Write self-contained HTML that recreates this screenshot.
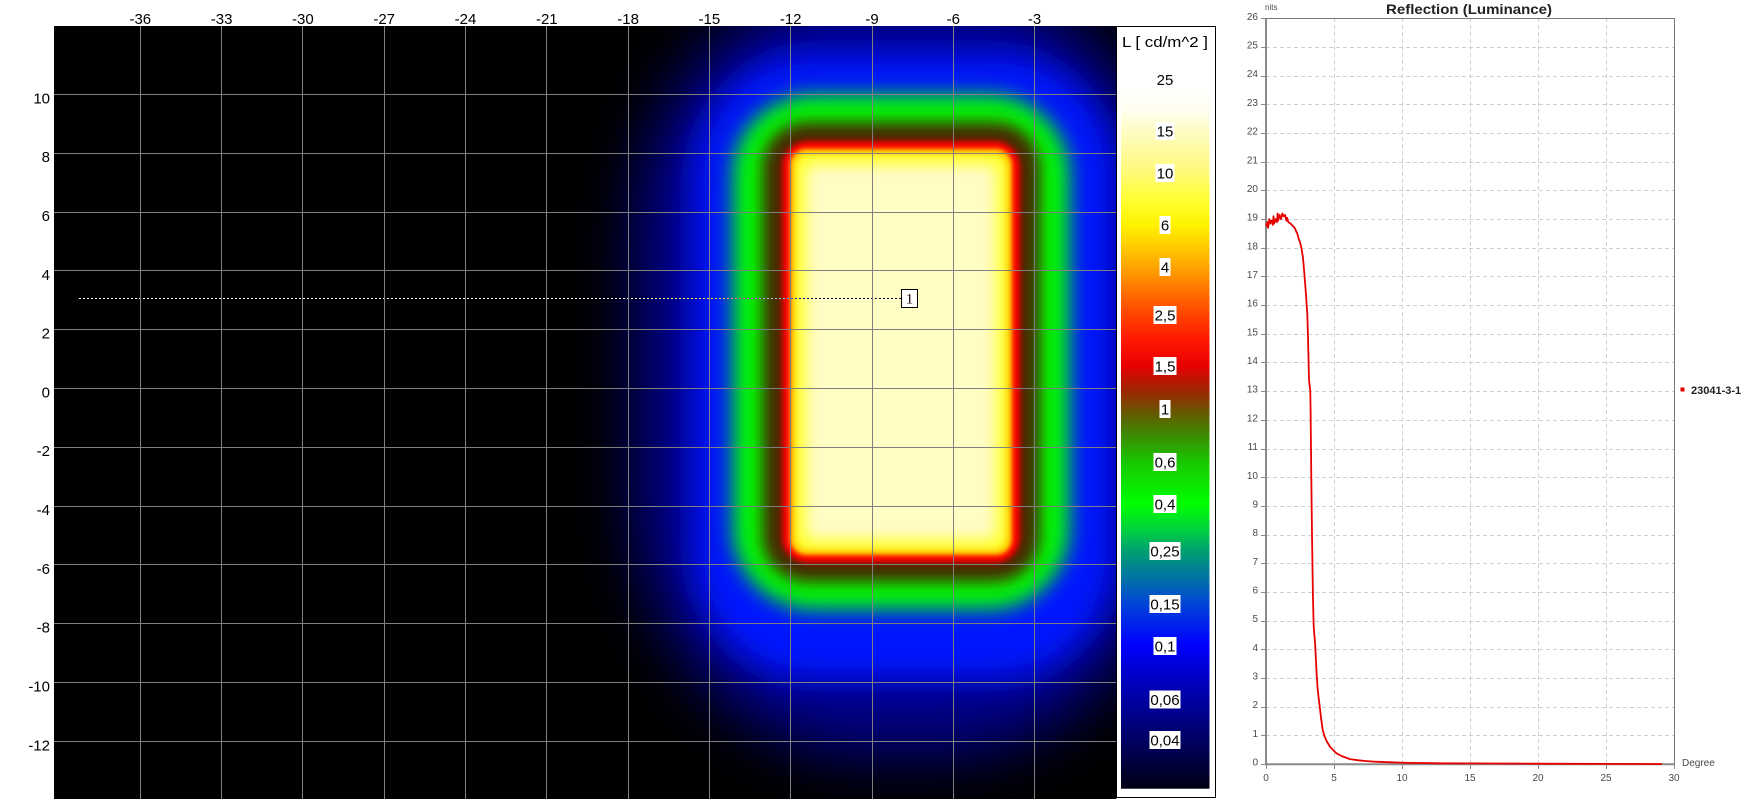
<!DOCTYPE html>
<html>
<head>
<meta charset="utf-8">
<style>
html,body{margin:0;padding:0;background:#fff;}
body{width:1753px;height:799px;overflow:hidden;}
svg{display:block;}
.ax{font-family:"Liberation Sans",sans-serif;font-size:15px;fill:#000;}
.cb{font-family:"Liberation Sans",sans-serif;font-size:15px;fill:#000;text-anchor:middle;}
.ch{font-family:"Liberation Sans",sans-serif;font-size:10px;fill:#4a4a4a;}
</style>
</head>
<body>
<svg width="1753" height="799" viewBox="0 0 1753 799" xmlns="http://www.w3.org/2000/svg">
<defs>
  <clipPath id="hm"><rect x="54" y="26" width="1062.5" height="773"/></clipPath>
  <filter id="b30" x="-50%" y="-50%" width="200%" height="200%"><feGaussianBlur stdDeviation="30"/></filter>
  <filter id="b16" x="-50%" y="-50%" width="200%" height="200%"><feGaussianBlur stdDeviation="17"/></filter>
  <filter id="b9" x="-50%" y="-50%" width="200%" height="200%"><feGaussianBlur stdDeviation="10"/></filter>
  <filter id="b6" x="-50%" y="-50%" width="200%" height="200%"><feGaussianBlur stdDeviation="8"/></filter>
  <filter id="b3" x="-50%" y="-50%" width="200%" height="200%"><feGaussianBlur stdDeviation="3"/></filter>
  <filter id="b2" x="-50%" y="-50%" width="200%" height="200%"><feGaussianBlur stdDeviation="2.5"/></filter>
  <filter id="b7" x="-50%" y="-50%" width="200%" height="200%"><feGaussianBlur stdDeviation="7"/></filter>
  <linearGradient id="cg" x1="0" y1="80" x2="0" y2="789" gradientUnits="userSpaceOnUse">
    <stop offset="0.004" stop-color="#ffffff"/>
    <stop offset="0.042" stop-color="#fffef0"/>
    <stop offset="0.072" stop-color="#fffcc4"/>
    <stop offset="0.131" stop-color="#fffa78"/>
    <stop offset="0.169" stop-color="#ffff30"/>
    <stop offset="0.205" stop-color="#fff200"/>
    <stop offset="0.240" stop-color="#ffc400"/>
    <stop offset="0.264" stop-color="#ffa400"/>
    <stop offset="0.296" stop-color="#ff7400"/>
    <stop offset="0.331" stop-color="#ff4400"/>
    <stop offset="0.367" stop-color="#ff1800"/>
    <stop offset="0.403" stop-color="#e80000"/>
    <stop offset="0.437" stop-color="#a02400"/>
    <stop offset="0.464" stop-color="#6e5000"/>
    <stop offset="0.501" stop-color="#3c8a00"/>
    <stop offset="0.539" stop-color="#18c800"/>
    <stop offset="0.598" stop-color="#00ff00"/>
    <stop offset="0.635" stop-color="#00d040"/>
    <stop offset="0.664" stop-color="#00a070"/>
    <stop offset="0.705" stop-color="#0070a8"/>
    <stop offset="0.739" stop-color="#0044d8"/>
    <stop offset="0.797" stop-color="#0000ff"/>
    <stop offset="0.832" stop-color="#0000d0"/>
    <stop offset="0.873" stop-color="#0000a4"/>
    <stop offset="0.931" stop-color="#000064"/>
    <stop offset="1" stop-color="#000012"/>
  </linearGradient>
</defs>

<!-- ===== Heatmap ===== -->
<g clip-path="url(#hm)">
  <rect x="54" y="26" width="1063" height="773" fill="#000"/>
  <rect x="635" y="-20" width="540" height="775" rx="230" ry="260" fill="#000088" filter="url(#b30)"/>
  <rect x="692" y="52" width="425" height="628" rx="120" ry="130" fill="#0014ff" filter="url(#b16)"/>
  <rect x="733" y="95" width="336" height="514" rx="80" ry="80" fill="#00ff00" filter="url(#b9)"/>
  <rect x="762" y="122" width="278" height="460" rx="45" ry="45" fill="#4a2800" filter="url(#b6)"/>
  <rect x="782" y="141" width="238" height="422" rx="26" ry="26" fill="#ff0000" filter="url(#b3)"/>
  <rect x="790" y="149" width="222" height="406" rx="16" ry="16" fill="#ffd000" filter="url(#b2)"/>
  <rect x="796" y="155" width="210" height="394" rx="12" ry="12" fill="#ffff30" filter="url(#b3)"/>
  <rect x="806" y="165" width="190" height="374" rx="8" ry="8" fill="#fffcc4" filter="url(#b7)"/>
  <!-- grid -->
  <g stroke="#808080" stroke-width="1">
    <line x1="140.5" y1="26" x2="140.5" y2="799"/>
    <line x1="221.5" y1="26" x2="221.5" y2="799"/>
    <line x1="302.5" y1="26" x2="302.5" y2="799"/>
    <line x1="384.5" y1="26" x2="384.5" y2="799"/>
    <line x1="465.5" y1="26" x2="465.5" y2="799"/>
    <line x1="546.5" y1="26" x2="546.5" y2="799"/>
    <line x1="628.5" y1="26" x2="628.5" y2="799"/>
    <line x1="709.5" y1="26" x2="709.5" y2="799"/>
    <line x1="790.5" y1="26" x2="790.5" y2="799"/>
    <line x1="872.5" y1="26" x2="872.5" y2="799"/>
    <line x1="953.5" y1="26" x2="953.5" y2="799"/>
    <line x1="1034.5" y1="26" x2="1034.5" y2="799"/>
    <line x1="54" y1="94.5" x2="1117" y2="94.5"/>
    <line x1="54" y1="153.5" x2="1117" y2="153.5"/>
    <line x1="54" y1="212.5" x2="1117" y2="212.5"/>
    <line x1="54" y1="270.5" x2="1117" y2="270.5"/>
    <line x1="54" y1="329.5" x2="1117" y2="329.5"/>
    <line x1="54" y1="388.5" x2="1117" y2="388.5"/>
    <line x1="54" y1="447.5" x2="1117" y2="447.5"/>
    <line x1="54" y1="506.5" x2="1117" y2="506.5"/>
    <line x1="54" y1="564.5" x2="1117" y2="564.5"/>
    <line x1="54" y1="623.5" x2="1117" y2="623.5"/>
    <line x1="54" y1="682.5" x2="1117" y2="682.5"/>
    <line x1="54" y1="741.5" x2="1117" y2="741.5"/>
  </g>
  <!-- dotted profile line -->
  <line x1="79" y1="298.5" x2="901" y2="298.5" stroke="#fff" stroke-width="1" stroke-dasharray="2,2" style="mix-blend-mode:difference"/>
</g>
<rect x="901.5" y="289.5" width="16" height="18" fill="#fff" stroke="#000" stroke-width="1"/>
<text x="909.5" y="303.5" text-anchor="middle" font-family="Liberation Serif, serif" font-size="15" fill="#200000">1</text>

<!-- heatmap axis labels -->
<g class="ax" text-anchor="middle">
  <text x="140.3" y="24">-36</text>
  <text x="221.6" y="24">-33</text>
  <text x="302.9" y="24">-30</text>
  <text x="384.2" y="24">-27</text>
  <text x="465.5" y="24">-24</text>
  <text x="546.8" y="24">-21</text>
  <text x="628.1" y="24">-18</text>
  <text x="709.4" y="24">-15</text>
  <text x="790.7" y="24">-12</text>
  <text x="872" y="24">-9</text>
  <text x="953.3" y="24">-6</text>
  <text x="1034.6" y="24">-3</text>
</g>
<g class="ax" text-anchor="end">
  <text x="50" y="103.3">10</text>
  <text x="50" y="162.1">8</text>
  <text x="50" y="220.9">6</text>
  <text x="50" y="279.8">4</text>
  <text x="50" y="338.6">2</text>
  <text x="50" y="397.4">0</text>
  <text x="50" y="456.2">-2</text>
  <text x="50" y="515">-4</text>
  <text x="50" y="573.9">-6</text>
  <text x="50" y="632.7">-8</text>
  <text x="50" y="691.5">-10</text>
  <text x="50" y="750.3">-12</text>
</g>

<!-- ===== Colorbar ===== -->
<rect x="1116.5" y="26.5" width="99" height="771" fill="#fff" stroke="#000" stroke-width="1"/>
<rect x="1121" y="80" width="88.5" height="708.7" fill="url(#cg)"/>
<text x="1165" y="47" class="cb" textLength="86" lengthAdjust="spacingAndGlyphs">L [ cd/m^2 ]</text>
<text x="1165" y="85" class="cb">25</text>
<g fill="#fff">
  <rect x="1155.5" y="122" width="19" height="18"/>
  <rect x="1155.5" y="164" width="19" height="18"/>
  <rect x="1159.5" y="216" width="11" height="18"/>
  <rect x="1159.5" y="258" width="11" height="18"/>
  <rect x="1153.5" y="306" width="23" height="18"/>
  <rect x="1153.5" y="357" width="23" height="18"/>
  <rect x="1159.5" y="400" width="11" height="18"/>
  <rect x="1153.5" y="453" width="23" height="18"/>
  <rect x="1153.5" y="495" width="23" height="18"/>
  <rect x="1149.5" y="542" width="31" height="18"/>
  <rect x="1149.5" y="595" width="31" height="18"/>
  <rect x="1153.5" y="637" width="23" height="18"/>
  <rect x="1149.5" y="690.5" width="31" height="18"/>
  <rect x="1149.5" y="731" width="31" height="18"/>
</g>
<g class="cb">
  <text x="1165" y="136.3">15</text>
  <text x="1165" y="178.3">10</text>
  <text x="1165" y="230.3">6</text>
  <text x="1165" y="272.3">4</text>
  <text x="1165" y="320.3">2,5</text>
  <text x="1165" y="371.3">1,5</text>
  <text x="1165" y="414.3">1</text>
  <text x="1165" y="467.3">0,6</text>
  <text x="1165" y="509.3">0,4</text>
  <text x="1165" y="556.3">0,25</text>
  <text x="1165" y="609.3">0,15</text>
  <text x="1165" y="651.3">0,1</text>
  <text x="1165" y="704.8">0,06</text>
  <text x="1165" y="745.3">0,04</text>
</g>

<!-- ===== Line chart ===== -->
<text x="1469" y="14" text-anchor="middle" font-family="Liberation Sans, sans-serif" font-size="14" font-weight="bold" fill="#222" textLength="166" lengthAdjust="spacingAndGlyphs">Reflection (Luminance)</text>
<text x="1265" y="10" font-family="Liberation Sans, sans-serif" font-size="8" fill="#4a4a4a">nits</text>

<g stroke="#cfcfcf" stroke-width="1" stroke-dasharray="4,3">
  <line x1="1266" y1="47.5" x2="1674" y2="47.5"/>
  <line x1="1266" y1="76.5" x2="1674" y2="76.5"/>
  <line x1="1266" y1="104.5" x2="1674" y2="104.5"/>
  <line x1="1266" y1="133.5" x2="1674" y2="133.5"/>
  <line x1="1266" y1="162.5" x2="1674" y2="162.5"/>
  <line x1="1266" y1="190.5" x2="1674" y2="190.5"/>
  <line x1="1266" y1="219.5" x2="1674" y2="219.5"/>
  <line x1="1266" y1="248.5" x2="1674" y2="248.5"/>
  <line x1="1266" y1="276.5" x2="1674" y2="276.5"/>
  <line x1="1266" y1="305.5" x2="1674" y2="305.5"/>
  <line x1="1266" y1="334.5" x2="1674" y2="334.5"/>
  <line x1="1266" y1="362.5" x2="1674" y2="362.5"/>
  <line x1="1266" y1="391.5" x2="1674" y2="391.5"/>
  <line x1="1266" y1="420.5" x2="1674" y2="420.5"/>
  <line x1="1266" y1="449.5" x2="1674" y2="449.5"/>
  <line x1="1266" y1="477.5" x2="1674" y2="477.5"/>
  <line x1="1266" y1="506.5" x2="1674" y2="506.5"/>
  <line x1="1266" y1="535.5" x2="1674" y2="535.5"/>
  <line x1="1266" y1="563.5" x2="1674" y2="563.5"/>
  <line x1="1266" y1="592.5" x2="1674" y2="592.5"/>
  <line x1="1266" y1="621.5" x2="1674" y2="621.5"/>
  <line x1="1266" y1="649.5" x2="1674" y2="649.5"/>
  <line x1="1266" y1="678.5" x2="1674" y2="678.5"/>
  <line x1="1266" y1="707.5" x2="1674" y2="707.5"/>
  <line x1="1266" y1="735.5" x2="1674" y2="735.5"/>
  <line x1="1334.5" y1="18" x2="1334.5" y2="764"/>
  <line x1="1402.5" y1="18" x2="1402.5" y2="764"/>
  <line x1="1470.5" y1="18" x2="1470.5" y2="764"/>
  <line x1="1538.5" y1="18" x2="1538.5" y2="764"/>
  <line x1="1606.5" y1="18" x2="1606.5" y2="764"/>
</g>
<!-- borders -->
<line x1="1266" y1="18.5" x2="1674.5" y2="18.5" stroke="#777" stroke-width="1"/>
<line x1="1674.5" y1="18" x2="1674.5" y2="765" stroke="#777" stroke-width="1"/>
<line x1="1266" y1="18" x2="1266" y2="765.3" stroke="#8a8a8a" stroke-width="2"/>
<line x1="1265" y1="764.3" x2="1675" y2="764.3" stroke="#8a8a8a" stroke-width="2"/>
<!-- ticks -->
<g stroke="#8a8a8a" stroke-width="1">
  <line x1="1261" y1="18.5" x2="1266" y2="18.5"/>
  <line x1="1261" y1="47.5" x2="1266" y2="47.5"/>
  <line x1="1261" y1="76.5" x2="1266" y2="76.5"/>
  <line x1="1261" y1="104.5" x2="1266" y2="104.5"/>
  <line x1="1261" y1="133.5" x2="1266" y2="133.5"/>
  <line x1="1261" y1="162.5" x2="1266" y2="162.5"/>
  <line x1="1261" y1="190.5" x2="1266" y2="190.5"/>
  <line x1="1261" y1="219.5" x2="1266" y2="219.5"/>
  <line x1="1261" y1="248.5" x2="1266" y2="248.5"/>
  <line x1="1261" y1="276.5" x2="1266" y2="276.5"/>
  <line x1="1261" y1="305.5" x2="1266" y2="305.5"/>
  <line x1="1261" y1="334.5" x2="1266" y2="334.5"/>
  <line x1="1261" y1="362.5" x2="1266" y2="362.5"/>
  <line x1="1261" y1="391.5" x2="1266" y2="391.5"/>
  <line x1="1261" y1="420.5" x2="1266" y2="420.5"/>
  <line x1="1261" y1="449.5" x2="1266" y2="449.5"/>
  <line x1="1261" y1="477.5" x2="1266" y2="477.5"/>
  <line x1="1261" y1="506.5" x2="1266" y2="506.5"/>
  <line x1="1261" y1="535.5" x2="1266" y2="535.5"/>
  <line x1="1261" y1="563.5" x2="1266" y2="563.5"/>
  <line x1="1261" y1="592.5" x2="1266" y2="592.5"/>
  <line x1="1261" y1="621.5" x2="1266" y2="621.5"/>
  <line x1="1261" y1="649.5" x2="1266" y2="649.5"/>
  <line x1="1261" y1="678.5" x2="1266" y2="678.5"/>
  <line x1="1261" y1="707.5" x2="1266" y2="707.5"/>
  <line x1="1261" y1="735.5" x2="1266" y2="735.5"/>
  <line x1="1261" y1="764.5" x2="1266" y2="764.5"/>
  <line x1="1266.5" y1="764" x2="1266.5" y2="769"/>
  <line x1="1334.5" y1="764" x2="1334.5" y2="769"/>
  <line x1="1402.5" y1="764" x2="1402.5" y2="769"/>
  <line x1="1470.5" y1="764" x2="1470.5" y2="769"/>
  <line x1="1538.5" y1="764" x2="1538.5" y2="769"/>
  <line x1="1606.5" y1="764" x2="1606.5" y2="769"/>
  <line x1="1674.5" y1="764" x2="1674.5" y2="769"/>
</g>
<g class="ch" text-anchor="end">
  <text x="1258" y="20">26</text>
  <text x="1258" y="48.5">25</text>
  <text x="1258" y="77.2">24</text>
  <text x="1258" y="105.9">23</text>
  <text x="1258" y="134.6">22</text>
  <text x="1258" y="163.3">21</text>
  <text x="1258" y="191.9">20</text>
  <text x="1258" y="220.6">19</text>
  <text x="1258" y="249.3">18</text>
  <text x="1258" y="278">17</text>
  <text x="1258" y="306.7">16</text>
  <text x="1258" y="335.4">15</text>
  <text x="1258" y="364">14</text>
  <text x="1258" y="392.7">13</text>
  <text x="1258" y="421.4">12</text>
  <text x="1258" y="450.1">11</text>
  <text x="1258" y="478.8">10</text>
  <text x="1258" y="507.5">9</text>
  <text x="1258" y="536.1">8</text>
  <text x="1258" y="564.8">7</text>
  <text x="1258" y="593.5">6</text>
  <text x="1258" y="622.2">5</text>
  <text x="1258" y="650.9">4</text>
  <text x="1258" y="679.6">3</text>
  <text x="1258" y="708.2">2</text>
  <text x="1258" y="736.9">1</text>
  <text x="1258" y="765.6">0</text>
</g>
<g class="ch" text-anchor="middle">
  <text x="1266" y="781">0</text>
  <text x="1334" y="781">5</text>
  <text x="1402" y="781">10</text>
  <text x="1470" y="781">15</text>
  <text x="1538" y="781">20</text>
  <text x="1606" y="781">25</text>
  <text x="1674" y="781">30</text>
</g>
<text x="1682" y="766" class="ch">Degree</text>

<!-- curve -->
<polyline fill="none" stroke="#e80000" stroke-width="1.8" stroke-linejoin="round" points="
1266,226.4 1267.4,222.1 1268,227.8 1269.4,219.2 1270.1,223.5 1271.4,220.6 1272.8,224.9 1273.5,216.3 1274.2,223.5 1275.5,219.2 1276.9,222.1 1277.6,213.5 1278.2,220.6 1279.6,214.9 1281,219.2 1282.3,213.5 1283.7,216.3 1285,214.9 1286.4,220.6 1287.1,217.8 1288.3,222.1 1290.5,223.5 1293.2,226.4 1294.6,227.8 1296.5,232.1 1297.3,233.5 1298.8,239.3 1300,242.1 1301.4,247.9 1303,257.9 1304.6,276.6 1305.7,290.9 1307.3,313.9 1308,336.8 1309,379.9 1310.3,391.3 1310.6,411.4 1311.3,477.4 1312,534.8 1312.4,560.6 1312.9,595 1313.7,626.6 1315.2,645 1316.6,673.4 1317.7,689.7 1319.5,704.9 1321.1,718.4 1322.7,729.9 1324.5,736.2 1326.9,741.6 1329.9,746.5 1333,750 1336.7,753.4 1341.5,756 1349.9,759.1 1358.5,760.3 1366.6,761.1 1374.8,761.7 1391.1,762.3 1408.8,762.9 1441.4,763.3 1470,763.4 1538,763.7 1606,763.9 1661.8,764"/>

<!-- legend -->
<rect x="1680.5" y="387.5" width="4" height="4" fill="#e80000"/>
<text x="1691" y="394" font-family="Liberation Sans, sans-serif" font-size="11" font-weight="bold" fill="#222">23041-3-1</text>
</svg>
</body>
</html>
